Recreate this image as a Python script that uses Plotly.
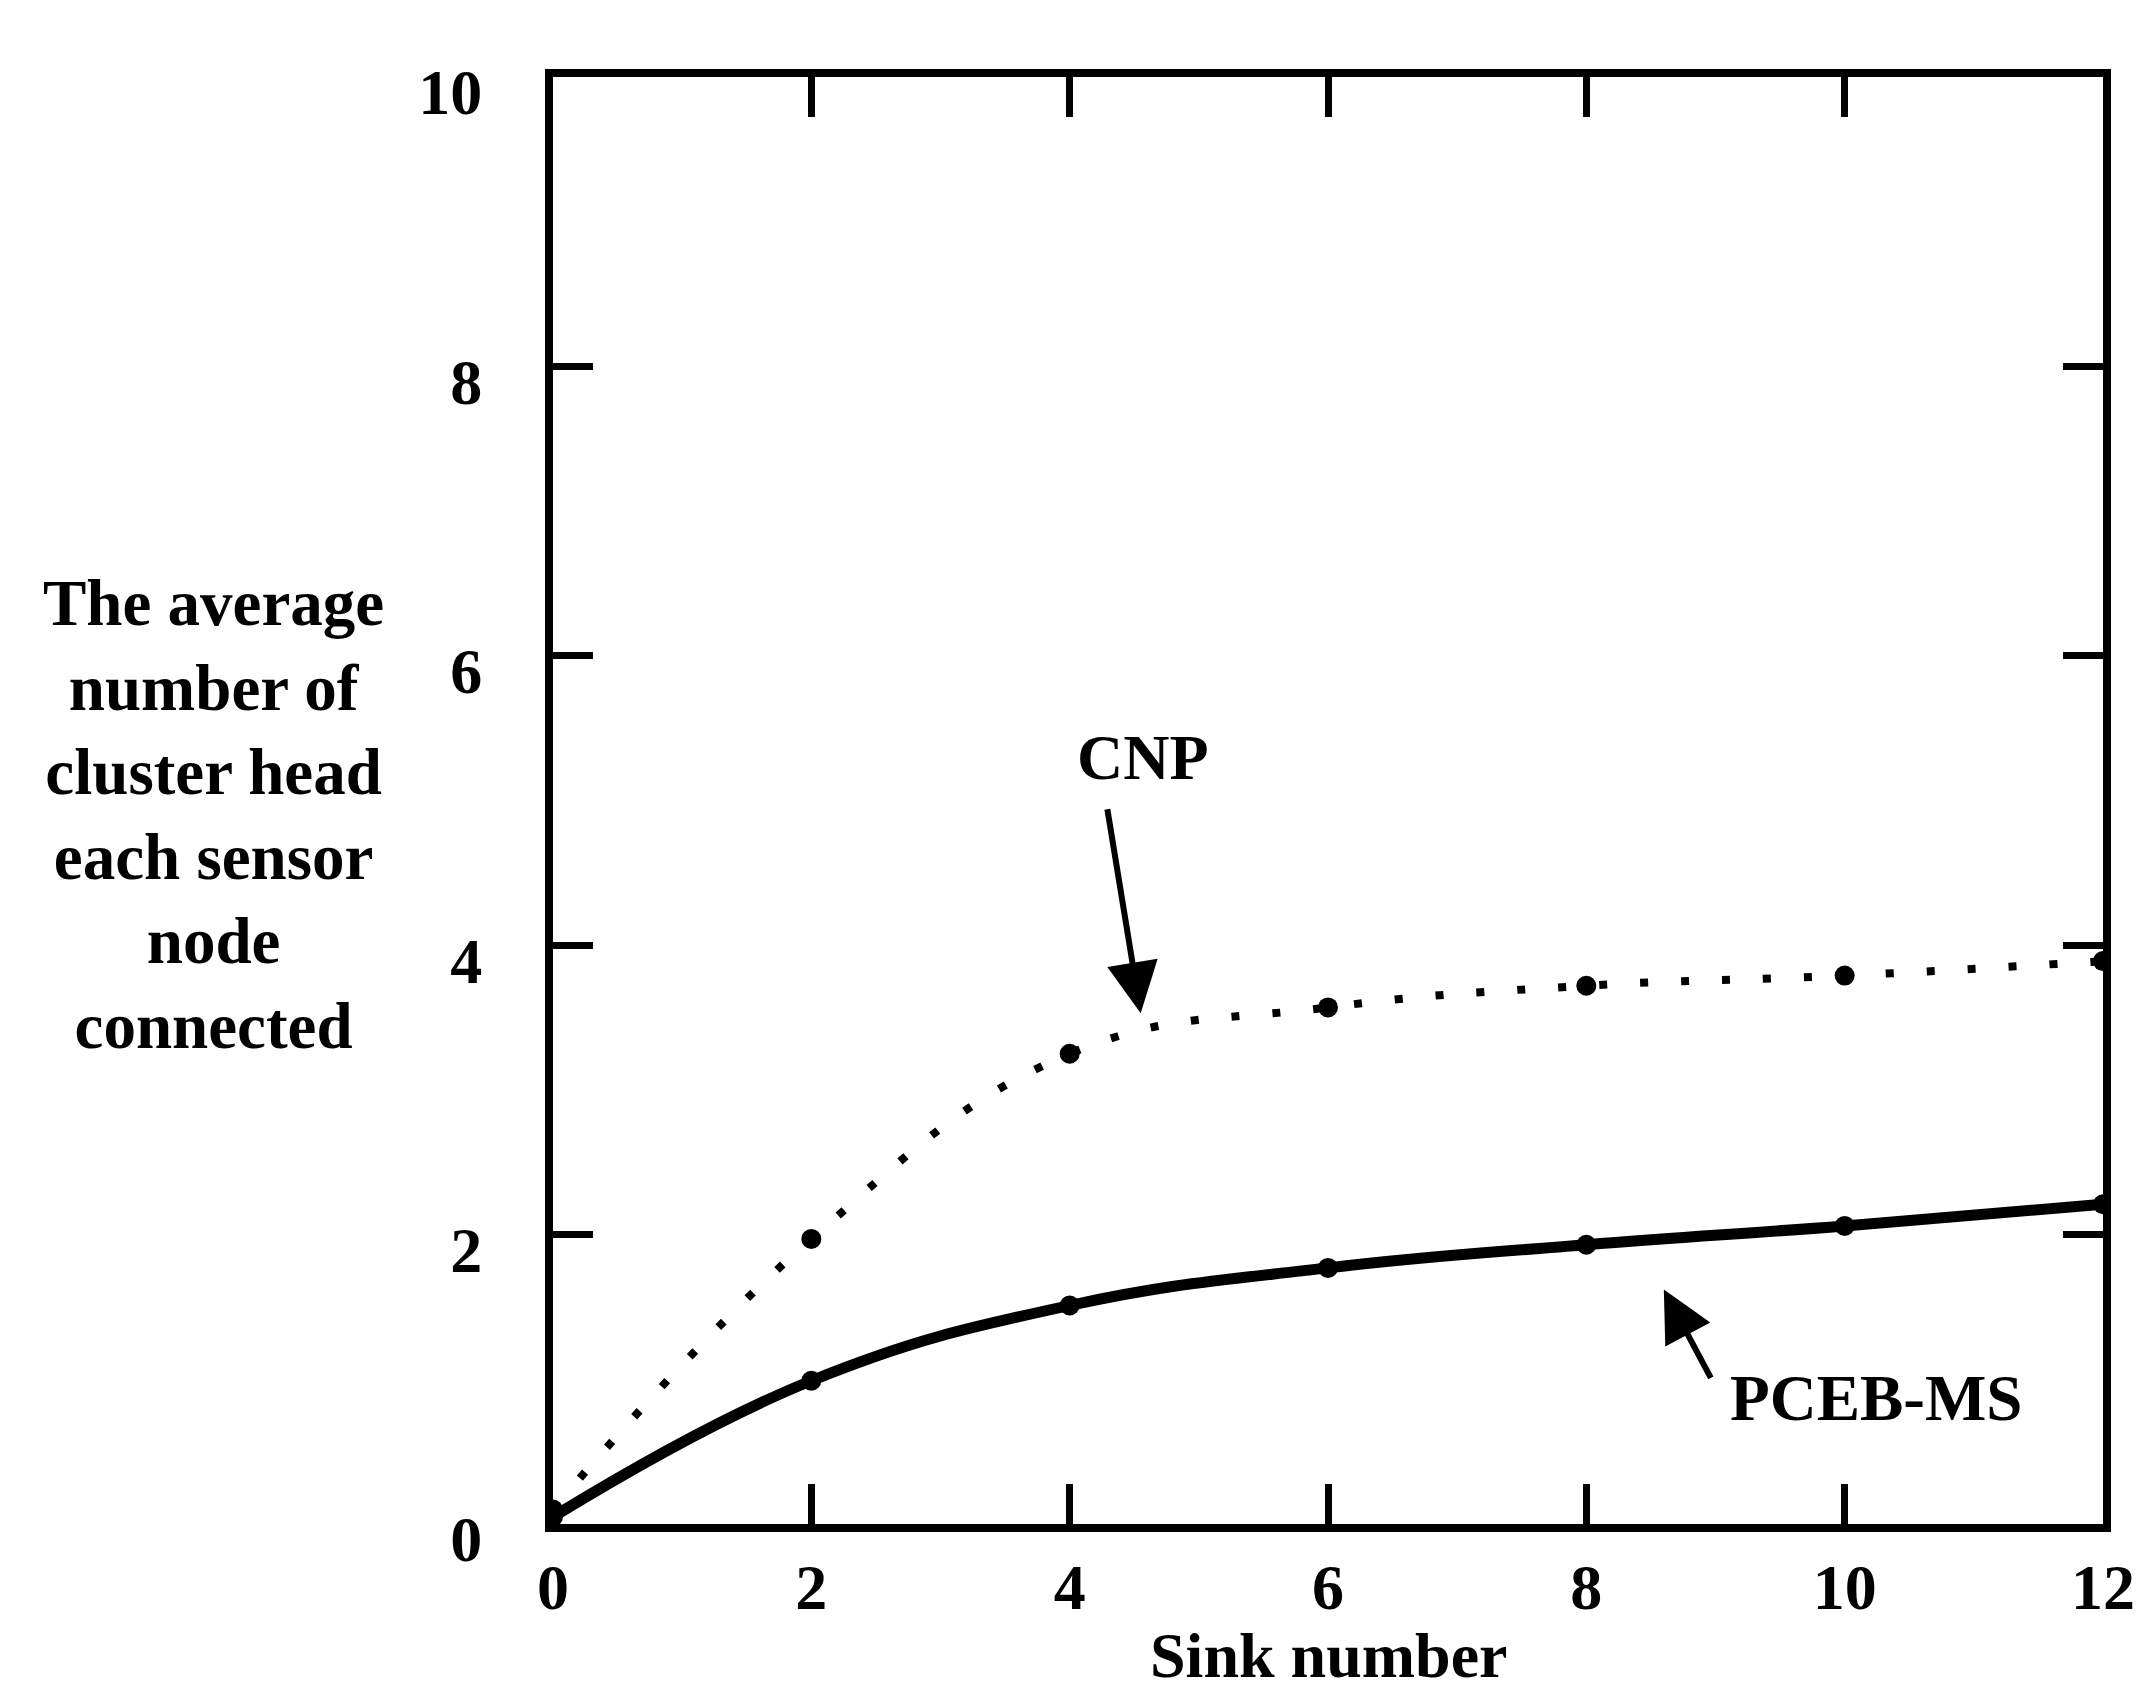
import plotly.graph_objects as go

sinks = [0, 2, 4, 6, 8, 10, 12]
cnp = [0.1, 1.97, 3.25, 3.57, 3.72, 3.79, 3.89]
pceb_ms = [0.05, 0.99, 1.51, 1.77, 1.93, 2.06, 2.21]

x_ticks = [0, 2, 4, 6, 8, 10, 12]
y_ticks = [0, 2, 4, 6, 8, 10]

font_family = "Liberation Serif, Times New Roman, serif"

fig = go.Figure()
fig.add_trace(go.Scatter(
    x=sinks, y=cnp, mode="lines+markers", name="CNP",
    line=dict(color="black", width=8, dash="8px,33px", shape="spline", smoothing=1.2),
    marker=dict(color="black", size=20),
))
fig.add_trace(go.Scatter(
    x=sinks, y=pceb_ms, mode="lines+markers", name="PCEB-MS",
    line=dict(color="black", width=11, shape="spline", smoothing=1.2),
    marker=dict(color="black", size=20),
))

# labels with arrows
fig.add_annotation(x=4.55, y=3.53, ax=4.29, ay=4.95, xref="x", yref="y", axref="x", ayref="y",
                   text="", showarrow=True, arrowhead=2, arrowsize=1.7, arrowwidth=6, arrowcolor="black")
fig.add_annotation(x=4.57, y=5.3, text="<b>CNP</b>", showarrow=False,
                   font=dict(family=font_family, size=64, color="black"))
fig.add_annotation(x=8.6, y=1.62, ax=8.97, ay=1.0, xref="x", yref="y", axref="x", ayref="y",
                   text="", showarrow=True, arrowhead=2, arrowsize=1.7, arrowwidth=6, arrowcolor="black")
fig.add_annotation(x=10.25, y=0.87, text="<b>PCEB-MS</b>", showarrow=False,
                   font=dict(family=font_family, size=65, color="black"))

# y axis title, written horizontally on the left
fig.add_annotation(
    x=-0.219, y=0.49, xref="paper", yref="paper", xanchor="center", yanchor="middle",
    showarrow=False,
    text="<b>The average<br>number of<br>cluster head<br>each sensor<br>node<br>connected</b>",
    font=dict(family=font_family, size=65, color="black"), align="center",
)
# x axis title
fig.add_annotation(
    x=0.5, y=-0.091, xref="paper", yref="paper", xanchor="center", yanchor="middle",
    showarrow=False, text="<b>Sink number</b>",
    font=dict(family=font_family, size=64, color="black"),
)

axis_style = dict(
    showline=True, linecolor="black", linewidth=8, mirror="allticks",
    ticks="inside", ticklen=40, tickwidth=7, tickcolor="black",
    showgrid=False, zeroline=False,
    tickfont=dict(family=font_family, size=64, color="black", weight="bold"),
)

fig.update_xaxes(range=[0, 12], tickvals=x_ticks, ticklabelstandoff=0, **axis_style)
fig.update_yaxes(range=[0, 10], tickvals=y_ticks, ticklabelstandoff=50,
                 ticklabelshift=15, **axis_style)

fig.update_layout(
    width=2144, height=1691,
    margin=dict(l=545, r=49, t=69, b=175),
    plot_bgcolor="white", paper_bgcolor="white",
    showlegend=False,
)

fig.write_html("out.html")
